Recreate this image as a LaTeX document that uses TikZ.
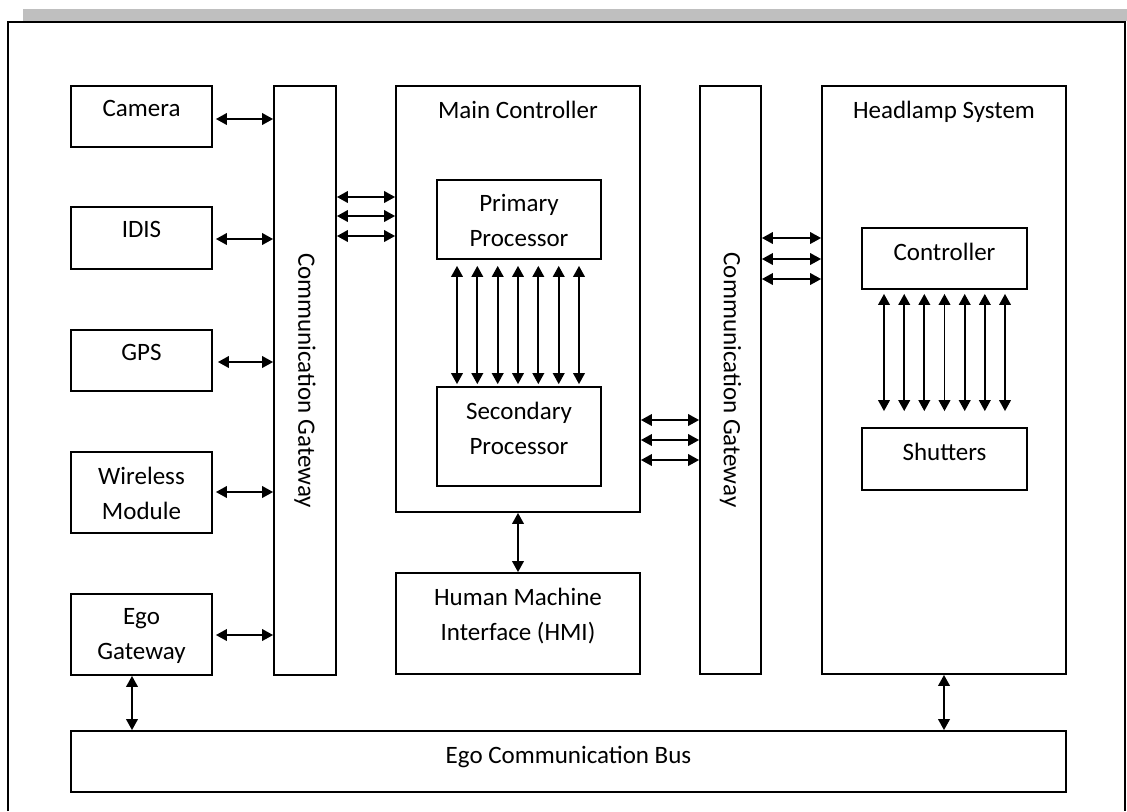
\documentclass[tikz,border=0pt]{standalone}
\usepackage{fontspec}
\setmainfont{Carlito}
\usetikzlibrary{arrows.meta,fit}

\tikzset{
  box/.style={draw, line width=0.9pt, inner sep=0pt},
  txt/.style={font=\fontsize{12.5}{17.5}\selectfont, align=center, inner sep=0pt},
  toptxt/.style={txt, anchor=north, yshift=-7.6pt},
  biarrow/.style={line width=0.9pt, {Triangle[length=5.5pt,width=5.8pt]}-{Triangle[length=5.5pt,width=5.8pt]}},
}

\begin{document}
\begin{tikzpicture}[x=0.5pt,y=-0.5pt]
  \useasboundingbox (0,0) rectangle (1127,811);

  % page frame with its shaded top edge
  \fill[gray!50] (23,9) rectangle (1127,21);
  \draw[line width=1pt] (8,811) -- (8,22) -- (1125,22) -- (1125,811);

  % sensors and modules
  \node[box, fit={(71,86) (212,147)},  label={[toptxt]north:Camera}] (cam) {};
  \node[box, fit={(71,207) (212,269)}, label={[toptxt]north:IDIS}] (idis) {};
  \node[box, fit={(71,330) (212,391)}, label={[toptxt]north:GPS}] (gps) {};
  \node[box, fit={(71,452) (212,533)}, label={[toptxt]north:Wireless\\Module}] (wm) {};
  \node[box, fit={(71,594) (212,675)}, label={[toptxt]north:Ego\\Gateway}] (ego) {};

  % gateways
  \node[box, fit={(274,86) (336,675)}] (gwL) {};
  \node[txt, rotate=-90] (gwLtxt) at (gwL.center) {Communication Gateway};
  \node[box, fit={(700,86) (761,674)}] (gwR) {};
  \node[txt, rotate=-90] (gwRtxt) at (gwR.center) {Communication Gateway};

  % main controller
  \node[box, fit={(396,86) (640,512)}, label={[toptxt]north:Main Controller}] (main) {};
  \node[box, fit={(437,180) (601,259)}, label={[toptxt]north:Primary\\Processor}] (pp) {};
  \node[box, fit={(437,387) (601,486)}, label={[toptxt]north:Secondary\\Processor}] (sp) {};
  \node[box, fit={(396,573) (640,674)}, label={[toptxt]north:Human Machine\\Interface (HMI)}] (hmi) {};

  % headlamp system
  \node[box, fit={(822,86) (1066,674)}, label={[toptxt]north:Headlamp System}] (hl) {};
  \node[box, fit={(862,228) (1027,289)}, label={[toptxt]north:Controller}] (ctl) {};
  \node[box, fit={(862,428) (1027,490)}, label={[toptxt]north:Shutters}] (sh) {};

  % bus
  \node[box, fit={(71,731) (1066,792)}, label={[toptxt]north:Ego Communication Bus}] (bus) {};

  % module links to the left gateway
  \draw[biarrow, shorten <=1.5pt] (cam.east |- 0,119) -- (gwL.west |- 0,119);
  \draw[biarrow, shorten <=1.5pt] (idis.east |- 0,239) -- (gwL.west |- 0,239);
  \draw[biarrow, shorten <=2.5pt] (gps.east |- 0,362) -- (gwL.west |- 0,362);
  \draw[biarrow, shorten <=1.5pt] (wm.east |- 0,492) -- (gwL.west |- 0,492);
  \draw[biarrow, shorten <=1.5pt] (ego.east |- 0,635) -- (gwL.west |- 0,635);

  % gateway links
  \foreach \y in {197,216,236}
    \draw[biarrow] (gwL.east |- 0,\y) -- (main.west |- 0,\y);
  \foreach \y in {420,440,460}
    \draw[biarrow] (main.east |- 0,\y) -- (gwR.west |- 0,\y);
  \foreach \y in {238,259,279}
    \draw[biarrow] (gwR.east |- 0,\y) -- (hl.west |- 0,\y);

  % processor links
  \foreach \x in {457,477.3,497.7,518,538.3,558.7,579}
    \draw[biarrow, shorten <=3pt, shorten >=1pt] (pp.south -| \x,0) -- (sp.north -| \x,0);
  \foreach \x in {884,904.2,924.3,944.5,964.7,984.8,1005}
    \draw[biarrow, shorten <=2pt, shorten >=8pt] (ctl.south -| \x,0) -- (sh.north -| \x,0);

  % HMI and bus links
  \draw[biarrow] (main.south) -- (hmi.north);
  \draw[biarrow] (ego.south -| 132,0) -- (bus.north -| 132,0);
  \draw[biarrow] (hl.south) -- (bus.north -| hl.south);
\end{tikzpicture}
\end{document}
